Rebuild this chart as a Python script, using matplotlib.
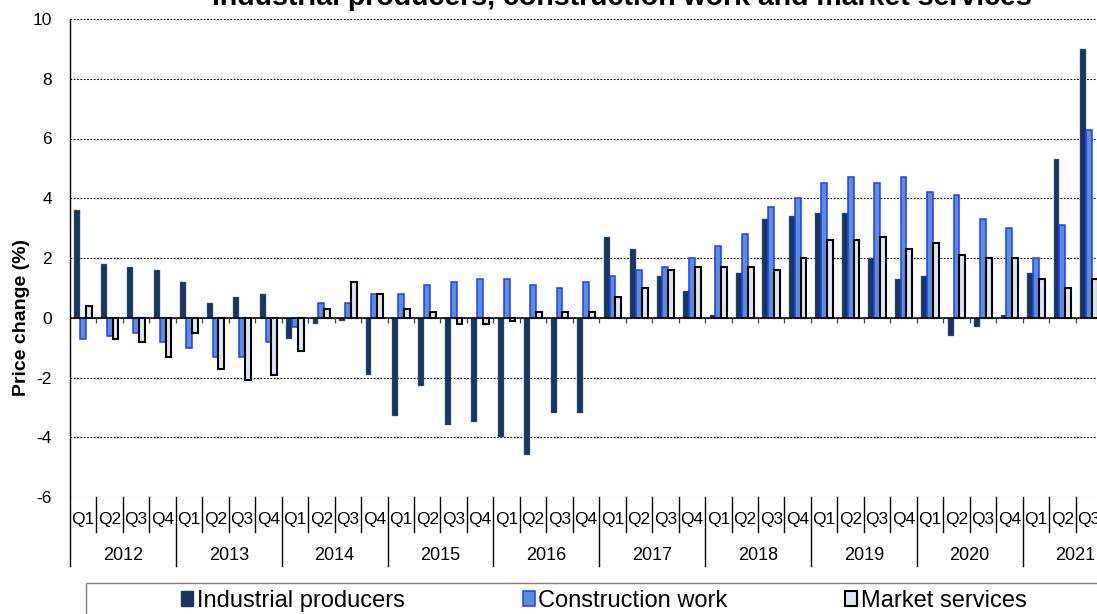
import matplotlib
matplotlib.use("Agg")
import matplotlib.pyplot as plt
from matplotlib.patches import Patch, Rectangle
import numpy as np

plt.rcParams['font.family'] = ['Liberation Sans', 'DejaVu Sans']
plt.rcParams['axes.unicode_minus'] = False

# data
years = ['2012', '2013', '2014', '2015', '2016', '2017', '2018', '2019', '2020', '2021']
quarters = ['Q1', 'Q2', 'Q3', 'Q4'] * 9 + ['Q1', 'Q2', 'Q3']

industrial = [3.6, 1.8, 1.7, 1.6, 1.2, 0.5, 0.7, 0.8, -0.7, -0.2, -0.1, -1.9,
              -3.3, -2.3, -3.6, -3.5, -4.0, -4.6, -3.2, -3.2, 2.7, 2.3, 1.4, 0.9,
              0.1, 1.5, 3.3, 3.4, 3.5, 3.5, 2.0, 1.3, 1.4, -0.6, -0.3, 0.1,
              1.5, 5.3, 9.0]
construction = [-0.7, -0.6, -0.5, -0.8, -1.0, -1.3, -1.3, -0.8, -0.3, 0.5, 0.5, 0.8,
                0.8, 1.1, 1.2, 1.3, 1.3, 1.1, 1.0, 1.2, 1.4, 1.6, 1.7, 2.0,
                2.4, 2.8, 3.7, 4.0, 4.5, 4.7, 4.5, 4.7, 4.2, 4.1, 3.3, 3.0,
                2.0, 3.1, 6.3]
market = [0.4, -0.7, -0.8, -1.3, -0.5, -1.7, -2.1, -1.9, -1.1, 0.3, 1.2, 0.8,
          0.3, 0.2, -0.2, -0.2, -0.1, 0.2, 0.2, 0.2, 0.7, 1.0, 1.6, 1.7,
          1.7, 1.7, 1.6, 2.0, 2.6, 2.6, 2.7, 2.3, 2.5, 2.1, 2.0, 2.0,
          1.3, 1.0, 1.3]

labels = ['Industrial producers', 'Construction work', 'Market services']

W, H = 1097, 614
fig = plt.figure(figsize=(W / 100, H / 100), dpi=100)
ax = fig.add_axes([70 / W, (H - 497) / H, 1032 / W, 478 / H])

x = np.arange(len(quarters))
bw = 0.22
navy = '#17375E'
c_fill, c_edge = '#5B8ED6', '#1F3BFF'
m_fill = '#DCE6F2'

ax.bar(x - 0.22, industrial, bw, color=navy, edgecolor='#5a6f8c', linewidth=0.3, zorder=3)
ax.bar(x, construction, bw, color=c_fill, edgecolor=c_edge, linewidth=1.1, zorder=3)
ax.bar(x + 0.22, market, bw, color=m_fill, edgecolor='black', linewidth=1.5, zorder=4)

ax.set_xlim(-0.5, len(quarters) - 0.5)
ax.set_ylim(-6, 10)
ax.set_yticks(range(-6, 11, 2))
ax.yaxis.grid(True, linestyle=(0, (1.5, 1.5)), color='black', linewidth=0.8)
ax.set_axisbelow(True)
ax.axhline(0, color='black', linewidth=1.1, zorder=5)

for s in ['top', 'right', 'bottom']:
    ax.spines[s].set_visible(False)
ax.spines['left'].set_linewidth(1.0)

ax.tick_params(axis='y', length=0, pad=13, labelsize=12.5)
ax.set_xticks(x)
ax.set_xticklabels(quarters)
ax.tick_params(axis='x', length=0, pad=11, labelsize=12.5)

# small ticks on zero line
bounds = np.arange(1, len(quarters)) - 0.5
ax.vlines(bounds, -0.17, 0, color='#404040', linewidth=0.9, zorder=5)

# category separators below axis
tr = ax.get_xaxis_transform()
for i in range(len(quarters)):
    b = i - 0.5
    low = -69 / 478 if i % 4 == 0 else -35 / 478
    ax.plot([b, b], [0, low], color='black', linewidth=1.0, transform=tr, clip_on=False)

for k, yr in enumerate(years):
    cx = 4 * k + 1.5
    ax.text(cx, -58 / 478, yr, transform=tr, ha='center', va='center', fontsize=13)

fig.text(22 / W, 1 - 318 / H, 'Price change (%)', rotation=90, ha='center', va='center',
         fontsize=14, fontweight='bold')
fig.text(622 / W, 1 - 5 / H, 'Industrial producers, construction work and market services',
         ha='center', va='baseline', fontsize=20.5, fontweight='bold')

# legend
fig.patches.append(Rectangle((86 / W, -0.1), (1116 - 86) / W, 0.1 + 1 - 583 / H,
                             transform=fig.transFigure, fill=False, edgecolor='#808080',
                             linewidth=1.0))
handles = [Patch(facecolor=navy, edgecolor=navy),
           Patch(facecolor=c_fill, edgecolor=c_edge, linewidth=1.1),
           Patch(facecolor=m_fill, edgecolor='black', linewidth=1.5)]
fig.legend(handles, labels, loc='center', bbox_to_anchor=(604 / W, 1 - 601 / H), ncol=3,
           frameon=False, fontsize=17, handlelength=0.5, handleheight=0.6,
           handletextpad=0.15, columnspacing=5.0, borderaxespad=0, borderpad=0)

fig.savefig('out.png', dpi=100)
